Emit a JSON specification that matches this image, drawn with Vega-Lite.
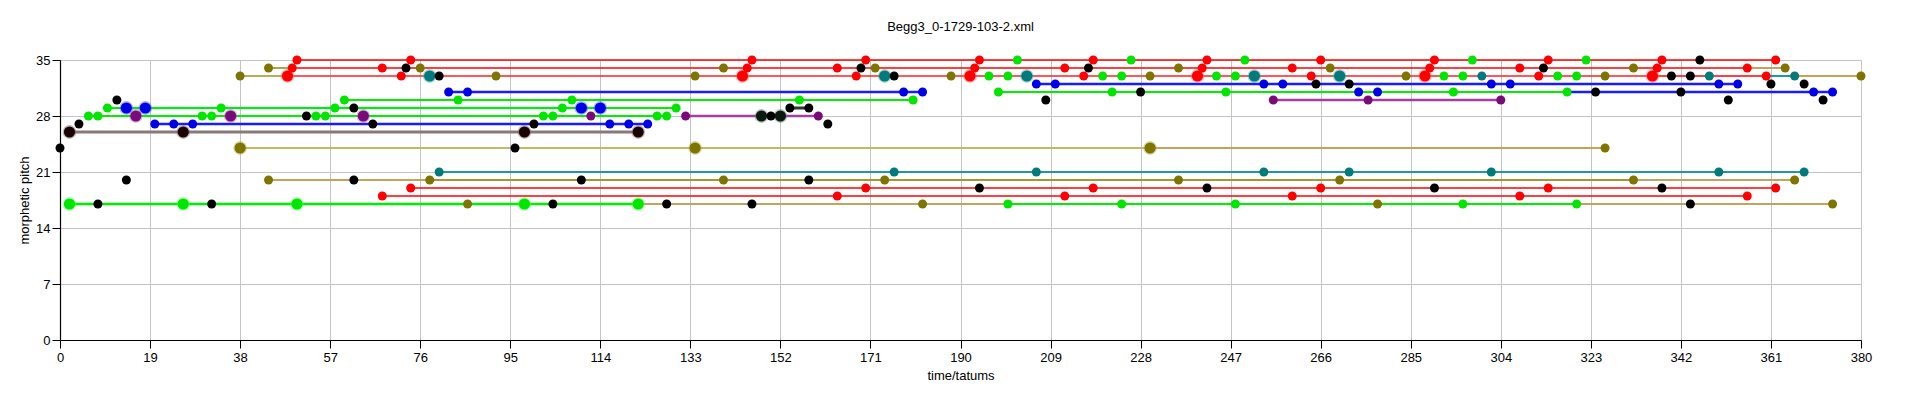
{
"$schema": "https://vega.github.io/schema/vega-lite/v6.json",
"width": 1801, "height": 280,
"autosize": {"type": "none"},
"padding": {"left": 60, "top": 60, "right": 59, "bottom": 61},
"background": "white",
"title": {"text": "Begg3_0-1729-103-2.xml", "fontSize": 13, "fontWeight": "normal", "font": "Liberation Sans", "color": "black", "offset": 20},
"config": {
  "view": {"stroke": null},
  "axis": {"domainColor": "black", "tickColor": "black", "labelColor": "black", "titleColor": "black", "labelFont": "Liberation Sans", "titleFont": "Liberation Sans", "labelFontSize": 13, "titleFontSize": 13, "titleFontWeight": "normal", "gridColor": "#c4c4c4", "gridWidth": 1, "domainWidth": 1.2, "tickSize": 8}
},
"datasets": {
"lines": [
{"x":50,"x2":362,"y":35,"k":"red"},
{"x":44,"x2":49,"y":34,"k":"olive"},
{"x":49,"x2":356,"y":34,"k":"red"},
{"x":356,"x2":364,"y":34,"k":"tan"},
{"x":38,"x2":48,"y":33,"k":"olive"},
{"x":48,"x2":336,"y":33,"k":"red2"},
{"x":336,"x2":360,"y":33,"k":"red"},
{"x":360,"x2":366,"y":33,"k":"teal"},
{"x":366,"x2":380,"y":33,"k":"tan"},
{"x":206,"x2":354,"y":32,"k":"blue"},
{"x":82,"x2":182,"y":31,"k":"blue"},
{"x":198,"x2":318,"y":31,"k":"green"},
{"x":318,"x2":374,"y":31,"k":"blue"},
{"x":60,"x2":180,"y":30,"k":"green"},
{"x":256,"x2":304,"y":30,"k":"purple"},
{"x":14,"x2":114,"y":29,"k":"lav"},
{"x":10,"x2":130,"y":29,"k":"green"},
{"x":154,"x2":158,"y":29,"k":"dark"},
{"x":6,"x2":128,"y":28,"k":"green"},
{"x":132,"x2":160,"y":28,"k":"purple"},
{"x":20,"x2":124,"y":27,"k":"blue"},
{"x":2,"x2":122,"y":26,"k":"brown"},
{"x":38,"x2":230,"y":24,"k":"khaki"},
{"x":230,"x2":326,"y":24,"k":"tan"},
{"x":80,"x2":368,"y":21,"k":"teal"},
{"x":44,"x2":366,"y":20,"k":"tan"},
{"x":78,"x2":332,"y":20,"k":"olive"},
{"x":74,"x2":362,"y":19,"k":"red"},
{"x":68,"x2":356,"y":18,"k":"red"},
{"x":86,"x2":374,"y":17,"k":"tan"},
{"x":2,"x2":122,"y":17,"k":"green2"},
{"x":200,"x2":320,"y":17,"k":"green"}
],
"points": [
{"x":50,"y":35,"k":"red","s":"s"},{"x":74,"y":35,"k":"red","s":"s"},{"x":146,"y":35,"k":"red","s":"s"},{"x":170,"y":35,"k":"red","s":"s"},{"x":194,"y":35,"k":"red","s":"s"},{"x":218,"y":35,"k":"red","s":"s"},{"x":242,"y":35,"k":"red","s":"s"},{"x":266,"y":35,"k":"red","s":"s"},{"x":290,"y":35,"k":"red","s":"s"},{"x":314,"y":35,"k":"red","s":"s"},{"x":338,"y":35,"k":"red","s":"s"},{"x":362,"y":35,"k":"red","s":"s"},
{"x":202,"y":35,"k":"green","s":"s"},{"x":226,"y":35,"k":"green","s":"s"},{"x":250,"y":35,"k":"green","s":"s"},{"x":298,"y":35,"k":"green","s":"s"},{"x":322,"y":35,"k":"green","s":"s"},
{"x":346,"y":35,"k":"black","s":"s"},
{"x":44,"y":34,"k":"olive","s":"s"},{"x":76,"y":34,"k":"olive","s":"s"},{"x":140,"y":34,"k":"olive","s":"s"},{"x":172,"y":34,"k":"olive","s":"s"},{"x":236,"y":34,"k":"olive","s":"s"},{"x":268,"y":34,"k":"olive","s":"s"},{"x":332,"y":34,"k":"olive","s":"s"},{"x":364,"y":34,"k":"olive","s":"s"},
{"x":49,"y":34,"k":"red","s":"s"},{"x":68,"y":34,"k":"red","s":"s"},{"x":145,"y":34,"k":"red","s":"s"},{"x":164,"y":34,"k":"red","s":"s"},{"x":193,"y":34,"k":"red","s":"s"},{"x":212,"y":34,"k":"red","s":"s"},{"x":241,"y":34,"k":"red","s":"s"},{"x":260,"y":34,"k":"red","s":"s"},{"x":289,"y":34,"k":"red","s":"s"},{"x":308,"y":34,"k":"red","s":"s"},{"x":337,"y":34,"k":"red","s":"s"},{"x":356,"y":34,"k":"red","s":"s"},
{"x":73,"y":34,"k":"black","s":"s"},{"x":169,"y":34,"k":"black","s":"s"},{"x":217,"y":34,"k":"black","s":"s"},{"x":313,"y":34,"k":"black","s":"s"},
{"x":38,"y":33,"k":"olive","s":"s"},{"x":92,"y":33,"k":"olive","s":"s"},{"x":134,"y":33,"k":"olive","s":"s"},{"x":188,"y":33,"k":"olive","s":"s"},{"x":230,"y":33,"k":"olive","s":"s"},{"x":284,"y":33,"k":"olive","s":"s"},{"x":326,"y":33,"k":"olive","s":"s"},{"x":380,"y":33,"k":"olive","s":"s"},
{"x":72,"y":33,"k":"red","s":"s"},{"x":168,"y":33,"k":"red","s":"s"},{"x":216,"y":33,"k":"red","s":"s"},{"x":264,"y":33,"k":"red","s":"s"},{"x":312,"y":33,"k":"red","s":"s"},{"x":360,"y":33,"k":"red","s":"s"},
{"x":48,"y":33,"k":"red","s":"b"},{"x":144,"y":33,"k":"red","s":"b"},{"x":192,"y":33,"k":"red","s":"b"},{"x":240,"y":33,"k":"red","s":"b"},{"x":288,"y":33,"k":"red","s":"b"},{"x":336,"y":33,"k":"red","s":"b"},
{"x":78,"y":33,"k":"teal","s":"b"},{"x":174,"y":33,"k":"teal","s":"b"},{"x":204,"y":33,"k":"teal","s":"b"},{"x":252,"y":33,"k":"teal","s":"b"},{"x":270,"y":33,"k":"teal","s":"b"},
{"x":300,"y":33,"k":"teal","s":"s"},{"x":348,"y":33,"k":"teal","s":"s"},{"x":366,"y":33,"k":"teal","s":"s"},
{"x":80,"y":33,"k":"black","s":"s"},{"x":176,"y":33,"k":"black","s":"s"},{"x":340,"y":33,"k":"black","s":"s"},{"x":344,"y":33,"k":"black","s":"s"},
{"x":196,"y":33,"k":"green","s":"s"},{"x":200,"y":33,"k":"green","s":"s"},{"x":220,"y":33,"k":"green","s":"s"},{"x":224,"y":33,"k":"green","s":"s"},{"x":244,"y":33,"k":"green","s":"s"},{"x":248,"y":33,"k":"green","s":"s"},{"x":292,"y":33,"k":"green","s":"s"},{"x":296,"y":33,"k":"green","s":"s"},{"x":316,"y":33,"k":"green","s":"s"},{"x":320,"y":33,"k":"green","s":"s"},
{"x":206,"y":32,"k":"blue","s":"s"},{"x":210,"y":32,"k":"blue","s":"s"},{"x":254,"y":32,"k":"blue","s":"s"},{"x":258,"y":32,"k":"blue","s":"s"},{"x":302,"y":32,"k":"blue","s":"s"},{"x":306,"y":32,"k":"blue","s":"s"},{"x":350,"y":32,"k":"blue","s":"s"},{"x":354,"y":32,"k":"blue","s":"s"},
{"x":265,"y":32,"k":"black","s":"s"},{"x":272,"y":32,"k":"black","s":"s"},{"x":361,"y":32,"k":"black","s":"s"},{"x":368,"y":32,"k":"black","s":"s"},
{"x":82,"y":31,"k":"blue","s":"s"},{"x":86,"y":31,"k":"blue","s":"s"},{"x":178,"y":31,"k":"blue","s":"s"},{"x":182,"y":31,"k":"blue","s":"s"},{"x":274,"y":31,"k":"blue","s":"s"},{"x":278,"y":31,"k":"blue","s":"s"},{"x":370,"y":31,"k":"blue","s":"s"},{"x":374,"y":31,"k":"blue","s":"s"},
{"x":198,"y":31,"k":"green","s":"s"},{"x":222,"y":31,"k":"green","s":"s"},{"x":246,"y":31,"k":"green","s":"s"},{"x":294,"y":31,"k":"green","s":"s"},{"x":318,"y":31,"k":"green","s":"s"},
{"x":228,"y":31,"k":"black","s":"s"},{"x":324,"y":31,"k":"black","s":"s"},{"x":342,"y":31,"k":"black","s":"s"},
{"x":12,"y":30,"k":"black","s":"s"},{"x":208,"y":30,"k":"black","s":"s"},{"x":352,"y":30,"k":"black","s":"s"},{"x":372,"y":30,"k":"black","s":"s"},
{"x":60,"y":30,"k":"green","s":"s"},{"x":84,"y":30,"k":"green","s":"s"},{"x":108,"y":30,"k":"green","s":"s"},{"x":156,"y":30,"k":"green","s":"s"},{"x":180,"y":30,"k":"green","s":"s"},
{"x":256,"y":30,"k":"purple","s":"s"},{"x":276,"y":30,"k":"purple","s":"s"},{"x":304,"y":30,"k":"purple","s":"s"},
{"x":10,"y":29,"k":"green","s":"s"},{"x":34,"y":29,"k":"green","s":"s"},{"x":58,"y":29,"k":"green","s":"s"},{"x":106,"y":29,"k":"green","s":"s"},{"x":130,"y":29,"k":"green","s":"s"},
{"x":14,"y":29,"k":"blue","s":"b"},{"x":18,"y":29,"k":"blue","s":"b"},{"x":110,"y":29,"k":"blue","s":"b"},{"x":114,"y":29,"k":"blue","s":"b"},
{"x":62,"y":29,"k":"black","s":"s"},{"x":154,"y":29,"k":"black","s":"s"},{"x":158,"y":29,"k":"black","s":"s"},
{"x":6,"y":28,"k":"green","s":"s"},{"x":8,"y":28,"k":"green","s":"s"},{"x":30,"y":28,"k":"green","s":"s"},{"x":32,"y":28,"k":"green","s":"s"},{"x":54,"y":28,"k":"green","s":"s"},{"x":56,"y":28,"k":"green","s":"s"},{"x":102,"y":28,"k":"green","s":"s"},{"x":104,"y":28,"k":"green","s":"s"},{"x":126,"y":28,"k":"green","s":"s"},{"x":128,"y":28,"k":"green","s":"s"},
{"x":16,"y":28,"k":"purple","s":"b"},{"x":36,"y":28,"k":"purple","s":"b"},{"x":64,"y":28,"k":"purple","s":"b"},
{"x":112,"y":28,"k":"purple","s":"s"},{"x":132,"y":28,"k":"purple","s":"s"},{"x":160,"y":28,"k":"purple","s":"s"},
{"x":52,"y":28,"k":"black","s":"s"},{"x":150,"y":28,"k":"black","s":"s"},
{"x":148,"y":28,"k":"darkg","s":"b"},{"x":152,"y":28,"k":"darkg","s":"b"},
{"x":4,"y":27,"k":"black","s":"s"},{"x":66,"y":27,"k":"black","s":"s"},{"x":100,"y":27,"k":"black","s":"s"},{"x":162,"y":27,"k":"black","s":"s"},
{"x":20,"y":27,"k":"blue","s":"s"},{"x":24,"y":27,"k":"blue","s":"s"},{"x":28,"y":27,"k":"blue","s":"s"},{"x":116,"y":27,"k":"blue","s":"s"},{"x":120,"y":27,"k":"blue","s":"s"},{"x":124,"y":27,"k":"blue","s":"s"},
{"x":2,"y":26,"k":"dark","s":"b"},{"x":26,"y":26,"k":"dark","s":"b"},{"x":98,"y":26,"k":"dark","s":"b"},{"x":122,"y":26,"k":"dark","s":"b"},
{"x":0,"y":24,"k":"black","s":"s"},{"x":96,"y":24,"k":"black","s":"s"},
{"x":38,"y":24,"k":"olive","s":"b"},{"x":134,"y":24,"k":"olive","s":"b"},{"x":230,"y":24,"k":"olive","s":"b"},{"x":326,"y":24,"k":"olive","s":"s"},
{"x":80,"y":21,"k":"teal","s":"s"},{"x":176,"y":21,"k":"teal","s":"s"},{"x":206,"y":21,"k":"teal","s":"s"},{"x":254,"y":21,"k":"teal","s":"s"},{"x":272,"y":21,"k":"teal","s":"s"},{"x":302,"y":21,"k":"teal","s":"s"},{"x":350,"y":21,"k":"teal","s":"s"},{"x":368,"y":21,"k":"teal","s":"s"},
{"x":14,"y":20,"k":"black","s":"s"},{"x":62,"y":20,"k":"black","s":"s"},{"x":110,"y":20,"k":"black","s":"s"},{"x":158,"y":20,"k":"black","s":"s"},
{"x":44,"y":20,"k":"olive","s":"s"},{"x":78,"y":20,"k":"olive","s":"s"},{"x":140,"y":20,"k":"olive","s":"s"},{"x":174,"y":20,"k":"olive","s":"s"},{"x":236,"y":20,"k":"olive","s":"s"},{"x":270,"y":20,"k":"olive","s":"s"},{"x":332,"y":20,"k":"olive","s":"s"},{"x":366,"y":20,"k":"olive","s":"s"},
{"x":74,"y":19,"k":"red","s":"s"},{"x":170,"y":19,"k":"red","s":"s"},{"x":218,"y":19,"k":"red","s":"s"},{"x":266,"y":19,"k":"red","s":"s"},{"x":314,"y":19,"k":"red","s":"s"},{"x":362,"y":19,"k":"red","s":"s"},
{"x":194,"y":19,"k":"black","s":"s"},{"x":242,"y":19,"k":"black","s":"s"},{"x":290,"y":19,"k":"black","s":"s"},{"x":338,"y":19,"k":"black","s":"s"},
{"x":68,"y":18,"k":"red","s":"s"},{"x":164,"y":18,"k":"red","s":"s"},{"x":212,"y":18,"k":"red","s":"s"},{"x":260,"y":18,"k":"red","s":"s"},{"x":308,"y":18,"k":"red","s":"s"},{"x":356,"y":18,"k":"red","s":"s"},
{"x":2,"y":17,"k":"green","s":"b"},{"x":26,"y":17,"k":"green","s":"b"},{"x":50,"y":17,"k":"green","s":"b"},{"x":98,"y":17,"k":"green","s":"b"},{"x":122,"y":17,"k":"green","s":"b"},
{"x":200,"y":17,"k":"green","s":"s"},{"x":224,"y":17,"k":"green","s":"s"},{"x":248,"y":17,"k":"green","s":"s"},{"x":296,"y":17,"k":"green","s":"s"},{"x":320,"y":17,"k":"green","s":"s"},
{"x":8,"y":17,"k":"black","s":"s"},{"x":32,"y":17,"k":"black","s":"s"},{"x":104,"y":17,"k":"black","s":"s"},{"x":128,"y":17,"k":"black","s":"s"},{"x":146,"y":17,"k":"black","s":"s"},{"x":344,"y":17,"k":"black","s":"s"},
{"x":86,"y":17,"k":"olive","s":"s"},{"x":182,"y":17,"k":"olive","s":"s"},{"x":278,"y":17,"k":"olive","s":"s"},{"x":374,"y":17,"k":"olive","s":"s"}
]
},
"encoding": {
  "x": {"field": "x", "type": "quantitative", "scale": {"domain": [0, 380], "nice": false, "zero": false},
        "axis": {"values": [0,19,38,57,76,95,114,133,152,171,190,209,228,247,266,285,304,323,342,361,380], "title": "time/tatums", "labelPadding": 3, "titlePadding": 5, "labelFlush": false}},
  "y": {"field": "y", "type": "quantitative", "scale": {"domain": [0, 35], "nice": false, "zero": false},
        "axis": {"values": [0,7,14,21,28,35], "title": "morphetic pitch", "labelPadding": 2, "titlePadding": 4}}
},
"layer": [
  {
    "data": {"name": "lines"},
    "mark": {"type": "rule"},
    "encoding": {
      "x2": {"field": "x2"},
      "color": {"field": "k", "type": "nominal", "legend": null,
        "scale": {"domain": ["red","red2","olive","tan","khaki","teal","green","green2","blue","lav","purple","brown","dark"],
                  "range": ["#ff0000","#ff2020","#9c9520","#c4a45c","#c2ba66","#229999","#00ee00","#00ee00","#1a1aff","#a0a0ff","#a040a0","#8a7878","#333333"]}},
      "strokeWidth": {"field": "k", "type": "nominal", "legend": null,
        "scale": {"domain": ["red","red2","olive","tan","khaki","teal","green","green2","blue","lav","purple","brown","dark"],
                  "range": [1.4,3,1.4,1.4,3,1.4,1.4,3.5,1.4,3,1.4,3.5,1.4]}}
    }
  },
  {
    "data": {"name": "points"},
    "transform": [{"filter": "datum.s == 'b'"}],
    "mark": {"type": "circle", "opacity": 0.45, "size": 190},
    "encoding": {
      "color": {"field": "k", "type": "nominal", "legend": null,
        "scale": {"domain": ["red","green","blue","black","olive","teal","purple","dark","darkg"],
                  "range": ["#ff6060","#50ff50","#5050ff","#444444","#b0a840","#40a0a0","#b060b0","#806060","#607a6a"]}}
    }
  },
  {
    "data": {"name": "points"},
    "mark": {"type": "circle", "opacity": 1},
    "encoding": {
      "color": {"field": "k", "type": "nominal", "legend": null,
        "scale": {"domain": ["red","green","blue","black","olive","teal","purple","dark","darkg"],
                  "range": ["#ff0000","#00e600","#0000e6","#000000","#7d7500","#007a7a","#7a0a7a","#1a0505","#0a1a10"]}},
      "size": {"field": "s", "type": "nominal", "legend": null,
        "scale": {"domain": ["s","b"], "range": [81,125]}}
    }
  }
],
"resolve": {"scale": {"color": "independent", "size": "independent"}}
}
